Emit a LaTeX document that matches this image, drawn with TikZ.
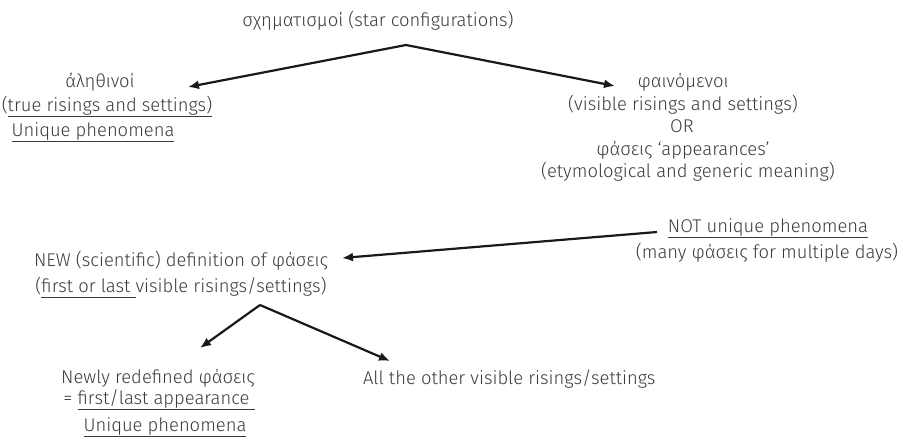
\documentclass[tikz,border=0pt]{standalone}
\usepackage{fontspec}
\setmainfont{Fira Sans Light}
\usetikzlibrary{arrows.meta}
\definecolor{txt}{HTML}{3A3A3A}
\newcommand\myul[1]{\setbox0\hbox{#1}\rlap{\color{txt}\rule[-5.5pt]{\wd0}{0.8pt}}\box0}
\tikzset{
  lbl/.style={anchor=base, inner sep=0pt, outer sep=0pt, text=txt, font=\fontsize{18.4}{22}\selectfont},
  lblw/.style={lbl, anchor=base west},
  arr/.style={draw=black!90, line width=2.2pt, -{Latex[length=11pt,width=9pt]}}
}
\begin{document}
\begin{tikzpicture}[x=1pt,y=-1pt]
\useasboundingbox (0,0) rectangle (903,442);
% top
\node[lbl] (title) at (378,26) {σχηματισμοί (star configurations)};
\coordinate (apex1) at (406,45);
% left block
\node[lbl] (al) at (100,87) {ἀληθινοί};
\node[lbl] (true) at (107,111) {(\myul{true risings and settings)}};
\node[lbl] (uni1) at (93,136) {\myul{Unique phenomena}};
\coordinate (tipL) at (188,87);
% right block
\node[lbl] (phain) at (683,87) {φαινόμενοι};
\node[lbl] (vis) at (683,110) {(visible risings and settings)};
\node[lbl] (or) at (682,132) {OR};
\node[lbl] (phas) at (683,155) {φάσεις ‘appearances’};
\node[lbl] (ety) at (688,177) {(etymological and generic meaning)};
\coordinate (tipR) at (615,86);
% NOT unique
\node[lbl] (notu) at (768,232) {\myul{NOT unique phenomena}};
\node[lbl] (many) at (767,258) {(many φάσεις for multiple days)};
\coordinate (startN) at (657,232);
% NEW definition
\node[lbl] (new) at (181,266) {NEW (scientific) definition of φάσεις};
\node[lbl] (first) at (181,292) {(\myul{first or last\ }visible risings/settings)};
\coordinate (tipN) at (342,258);
\coordinate (apex2) at (260,305);
% bottom
\node[lbl] (newly) at (158,383) {Newly redefined φάσεις};
\node[lbl] (eq) at (159,404) {= \myul{first/last appearance\ }};
\node[lbl] (uni2) at (165,431) {\myul{Unique phenomena}};
\node[lblw] (other) at (363,384) {All the other visible risings/settings};
\coordinate (tipB1) at (200,348);
\coordinate (tipB2) at (390,361);
% arrows
\draw[arr] (apex1) -- (tipL);
\draw[arr] (apex1) -- (tipR);
\draw[arr] (startN) -- (tipN);
\draw[arr] (apex2) -- (tipB1);
\draw[arr] (apex2) -- (tipB2);
\end{tikzpicture}
\end{document}
